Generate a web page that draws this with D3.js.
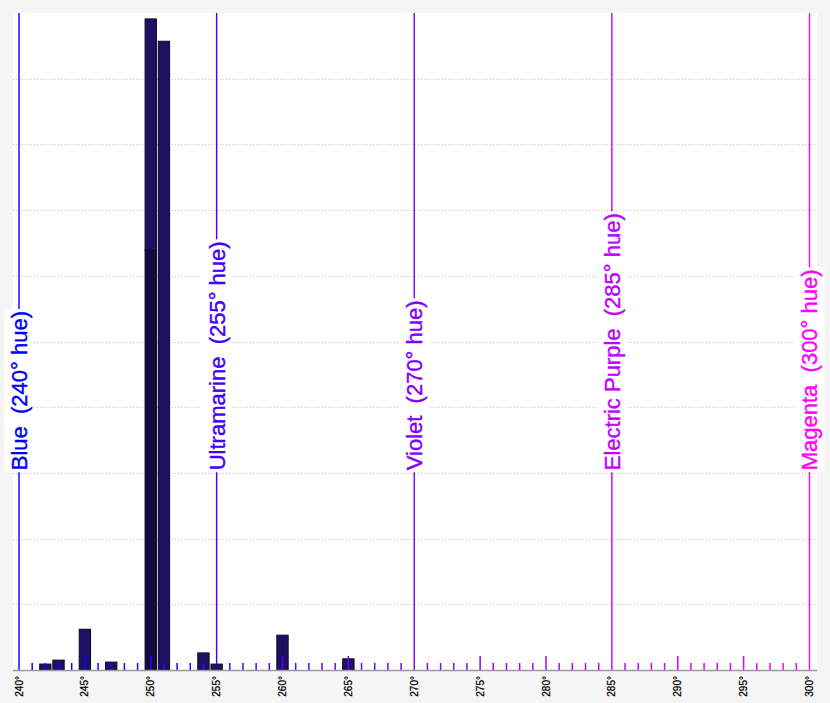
<!DOCTYPE html>
<html>

<head>
    <meta charset="UTF-8">
    <style>
        body { margin: 0; background: #f5f5f5; }
    </style>
</head>

<body>
    <div id="my_dataviz"></div>

    <script src="https://d3js.org/d3.v7.min.js"></script>
    <script>
        // hue bins that have pixels in them
        const hues = [242, 243, 245, 247, 250, 251, 254, 255, 260, 265];
        // dark shade part of every bin (lower segment of the stack)
        const shadeCounts = [0, 0, 0, 0, 63.9, 0, 0, 0, 0, 0];
        // main tone part of every bin
        const toneCounts = [0.9, 1.5, 6.2, 1.2, 35.2, 95.7, 2.6, 0.9, 5.3, 1.7];

        // named reference hues drawn as full height lines
        const refHues = [240, 255, 270, 285, 300];
        const refNames = ["Blue", "Ultramarine", "Violet", "Electric Purple", "Magenta"];

        const tickHues = d3.range(240, 301, 1);
        const labelHues = d3.range(240, 301, 5);
        const gridValues = d3.range(10, 100, 10);

        const W = 830, H = 703;
        const margin = { top: 13, right: 13, bottom: 33, left: 13 };

        const svg = d3.select("#my_dataviz")
            .append("svg")
            .attr("width", W)
            .attr("height", H)
            .style("font-family", "'Liberation Sans', Arial, sans-serif");

        const x = d3.scaleLinear()
            .domain([240, 300])
            .range([19, 809.5]);

        const y = d3.scaleLinear()
            .domain([0, 100])
            .range([H - margin.bottom, margin.top]);

        const barW = (x(241) - x(240)) * 0.86;

        // plot background
        svg.append("rect")
            .attr("x", margin.left)
            .attr("y", margin.top)
            .attr("width", W - margin.left - margin.right)
            .attr("height", H - margin.top - margin.bottom)
            .attr("fill", "#ffffff");

        // dotted grid
        svg.append("g")
            .selectAll("line")
            .data(gridValues)
            .enter().append("line")
            .attr("x1", margin.left)
            .attr("x2", W - margin.right)
            .attr("y1", d => Math.round(y(d)) + 0.5)
            .attr("y2", d => Math.round(y(d)) + 0.5)
            .attr("stroke", "#c4c4c4")
            .attr("stroke-dasharray", "1,2");

        const hueColor = h => d3.hsl(h, 1, 0.5).formatHex();

        // reference lines
        svg.append("g")
            .selectAll("line")
            .data(refHues)
            .enter().append("line")
            .attr("x1", d => x(d))
            .attr("x2", d => x(d))
            .attr("y1", margin.top)
            .attr("y2", y(0))
            .attr("stroke", d => hueColor(d))
            .attr("stroke-width", 1.4);

        // labels for the reference lines, white box behind
        const labelY = y(30.4);
        const labels = svg.append("g")
            .selectAll("g")
            .data(refHues)
            .enter().append("g")
            .attr("transform", d => "translate(" + x(d) + "," + labelY + ") rotate(-90)");

        labels.append("text")
            .attr("x", 0)
            .attr("y", 0)
            .attr("dy", "0.36em")
            .style("white-space", "pre")
            .style("font-size", "22px")
            .attr("fill", d => hueColor(d))
            .attr("stroke", d => hueColor(d))
            .attr("stroke-width", 0.4)
            .text((d, i) => refNames[i] + "  (" + d + "° hue)");

        labels.insert("rect", "text")
            .attr("x", -2)
            .attr("y", -15)
            .attr("height", 30)
            .attr("width", function () {
                return this.parentNode.querySelector("text").getComputedTextLength() + 4;
            })
            .attr("fill", "#ffffff");

        // stacked bars
        const stackRows = hues.map((h, i) => ({ hue: h, shade: shadeCounts[i], tone: toneCounts[i] }));
        const stacked = d3.stack().keys(["shade", "tone"])(stackRows);
        const barColors = { shade: "#140c3e", tone: "#1c1162" };

        svg.append("g")
            .selectAll("g")
            .data(stacked)
            .enter().append("g")
            .attr("fill", d => barColors[d.key])
            .selectAll("rect")
            .data(d => d.filter(p => p[1] - p[0] > 0))
            .enter().append("rect")
            .attr("x", d => x(d.data.hue) - barW / 2)
            .attr("y", d => y(d[1]))
            .attr("width", barW)
            .attr("height", d => y(d[0]) - y(d[1]))
            .attr("stroke", "#0b0628")
            .attr("stroke-width", 1);

        // small hue ticks on the baseline
        svg.append("g")
            .selectAll("line")
            .data(tickHues.filter(h => refHues.indexOf(h) < 0))
            .enter().append("line")
            .attr("x1", d => x(d))
            .attr("x2", d => x(d))
            .attr("y1", y(0))
            .attr("y2", d => y(0) - (d % 5 == 0 ? 14 : 7))
            .attr("stroke", d => hueColor(d))
            .attr("stroke-width", 1.5);

        // baseline
        svg.append("line")
            .attr("x1", margin.left)
            .attr("x2", W - margin.right)
            .attr("y1", y(0) + 0.5)
            .attr("y2", y(0) + 0.5)
            .attr("stroke", "#9a9a9a")
            .attr("stroke-width", 1.5);

        // hue labels under the axis
        svg.append("g")
            .selectAll("text")
            .data(labelHues)
            .enter().append("text")
            .attr("transform", d => "translate(" + x(d) + "," + (y(0) + 6) + ") rotate(-90)")
            .attr("dy", "0.35em")
            .style("text-anchor", "end")
            .style("font-size", "10px")
            .attr("fill", "#000")
            .attr("stroke", "#000")
            .attr("stroke-width", 0.25)
            .text(d => d + "°");
    </script>
</body>

</html>
